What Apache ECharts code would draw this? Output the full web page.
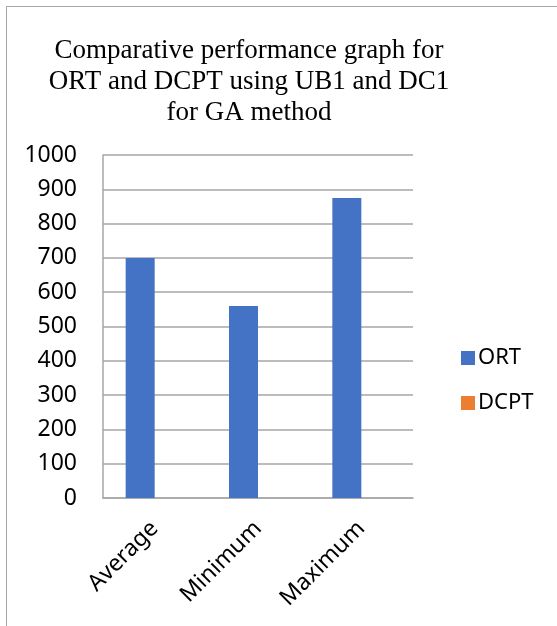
<!DOCTYPE html>
<html>
<head>
<meta charset="utf-8">
<script src="https://cdn.jsdelivr.net/npm/echarts@6/dist/echarts.min.js"></script>
<style>
  html, body { margin: 0; padding: 0; background: #fff; }
  #frame { position: absolute; left: 6px; top: 6px; width: 560px; height: 630px; border-left: 1px solid #a6a6a6; border-top: 1px solid #a6a6a6; }
  #chart { position: absolute; left: 0; top: 0; width: 557px; height: 626px; }
</style>
</head>
<body>
<div id="frame"></div>
<div id="chart"></div>
<script>
// Performance summary for the GA method
const categories = ['Average', 'Minimum', 'Maximum'];
const ortValues = [700, 560, 875];
const dcptValues = [0, 0, 0];
const yTicks = { min: 0, max: 1000, interval: 100 };

const chart = echarts.init(document.getElementById('chart'));
chart.setOption({
  animation: false,
  title: {
    text: 'Comparative performance graph for\nORT and DCPT using UB1 and DC1\nfor GA method',
    left: 244,
    textAlign: 'center',
    top: 30,
    textStyle: {
      fontFamily: 'Liberation Serif',
      fontWeight: 'normal',
      fontSize: 27,
      lineHeight: 31,
      color: '#000'
    }
  },
  legend: {
    orient: 'vertical',
    left: 456,
    top: 342,
    itemWidth: 14,
    itemHeight: 14,
    itemGap: 23,
    icon: 'rect',
    textStyle: { fontFamily: 'Noto Sans', fontSize: 22, color: '#000', padding: [0, 0, 0, -2] },
    data: ['ORT', 'DCPT']
  },
  grid: { left: 103, right: 144, top: 155, bottom: 128, containLabel: false },
  xAxis: {
    type: 'category',
    data: categories,
    axisLine: { lineStyle: { color: '#a6a6a6', width: 1.5 } },
    axisTick: { show: false },
    axisLabel: {
      rotate: 45,
      margin: 27,
      fontFamily: 'Noto Sans',
      fontSize: 23,
      color: '#000'
    }
  },
  yAxis: {
    type: 'value',
    min: yTicks.min,
    max: yTicks.max,
    interval: yTicks.interval,
    axisLine: { show: true, lineStyle: { color: '#a6a6a6', width: 1.5 } },
    axisTick: { show: false },
    splitLine: { lineStyle: { color: '#a6a6a6', width: 1.5 } },
    axisLabel: {
      margin: 26,
      fontFamily: 'Noto Sans',
      fontSize: 23,
      color: '#000',
      formatter: (v) => String(v)
    }
  },
  series: [
    {
      name: 'ORT',
      type: 'bar',
      data: ortValues,
      barWidth: 29,
      barGap: '0%',
      itemStyle: { color: '#4472c4' }
    },
    {
      name: 'DCPT',
      type: 'bar',
      data: dcptValues,
      barWidth: 29,
      itemStyle: { color: '#ed7d31' }
    }
  ]
});
</script>
</body>
</html>
